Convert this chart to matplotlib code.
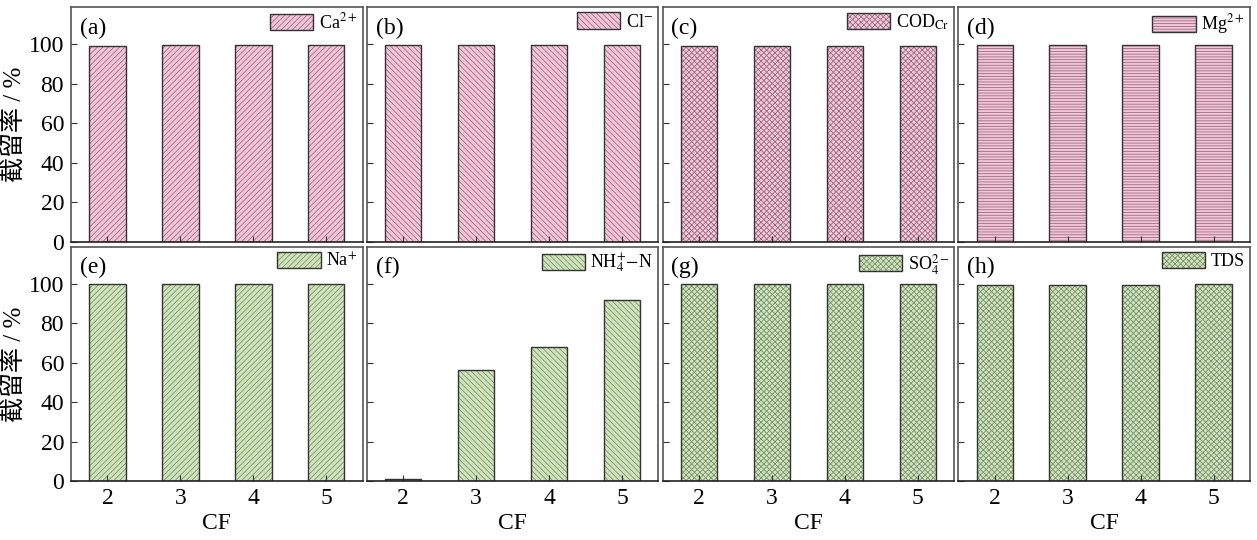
import numpy as np
import matplotlib.pyplot as plt
from matplotlib.patches import Patch

plt.rcParams['font.family'] = ['Liberation Serif', 'Noto Sans CJK SC']
plt.rcParams['mathtext.fontset'] = 'stix'
plt.rcParams['hatch.linewidth'] = 0.6

cf = [2, 3, 4, 5]
panels = ['(a)', '(b)', '(c)', '(d)', '(e)', '(f)', '(g)', '(h)']
species = ['Ca$^{2+}$', 'Cl$^{-}$', 'COD$_{\\mathrm{Cr}}$', 'Mg$^{2+}$',
           'Na$^{+}$', 'NH$_4^{+}$$-$N', 'SO$_4^{2-}$', 'TDS']
rej_ca = [99.2, 99.6, 99.6, 99.6]
rej_cl = [99.7, 99.7, 99.7, 99.7]
rej_cod = [99.1, 99.4, 99.1, 99.3]
rej_mg = [99.6, 99.6, 99.7, 99.8]
rej_na = [99.9, 99.9, 99.9, 99.9]
rej_nh4 = [1.0, 56.3, 68.0, 92.0]
rej_so4 = [99.9, 99.9, 99.9, 99.9]
rej_tds = [99.5, 99.7, 99.7, 99.9]
rejection = [rej_ca, rej_cl, rej_cod, rej_mg, rej_na, rej_nh4, rej_so4, rej_tds]

hatches = ['//////', '\\\\\\\\\\\\', 'xxxxxx', '------',
           '//////', '\\\\\\\\\\\\', 'xxxxxx', 'xxxxxx']
pink, pink_h = '#f5c5d7', '#967080'
green, green_h = '#cfe4b8', '#7a9174'
edge = '#333333'

fig, axes = plt.subplots(2, 4, figsize=(12.57, 5.40), dpi=100, sharey=True)
fig.subplots_adjust(left=0.0565, right=0.9944, top=0.987, bottom=0.109,
                    wspace=0.014, hspace=0.021)

for i, ax in enumerate(axes.flat):
    fc, hc = (pink, pink_h) if i < 4 else (green, green_h)
    ax.bar(cf, rejection[i], width=0.5, color=fc, edgecolor=hc,
           hatch=hatches[i], linewidth=0)
    ax.bar(cf, rejection[i], width=0.5, fill=False, edgecolor=edge,
           linewidth=1.0)
    ax.set_xlim(1.5, 5.5)
    ax.set_ylim(0, 119)
    ax.set_yticks([0, 20, 40, 60, 80, 100])
    ax.set_xticks(cf)
    ax.tick_params(direction='in', length=4, width=0.8, labelsize=17,
                   color='#333333', pad=5)
    for s in ax.spines.values():
        s.set_color('#555555')
        s.set_linewidth(1.2)
    ax.spines['bottom'].set_color('#222222')
    ax.text(0.03, 0.955, panels[i], transform=ax.transAxes, fontsize=17,
            va='top', ha='left')
    handle = Patch(facecolor=fc, edgecolor=hc, hatch=hatches[i], linewidth=0)
    frame = Patch(facecolor='none', edgecolor=edge, linewidth=1.0)
    ax.legend([(handle, frame)], [species[i]], loc='upper right', frameon=False,
              fontsize=13, handlelength=2.4, handleheight=1.0, handletextpad=0.3,
              borderaxespad=0.1, borderpad=0.2)
    if i < 4:
        ax.tick_params(labelbottom=False)
    else:
        ax.set_xlabel('CF', fontsize=17, labelpad=3)
    if i % 4 == 0:
        ax.set_ylabel('截留率 / %', fontsize=18, labelpad=2)

fig.savefig('out.png', dpi=100)
